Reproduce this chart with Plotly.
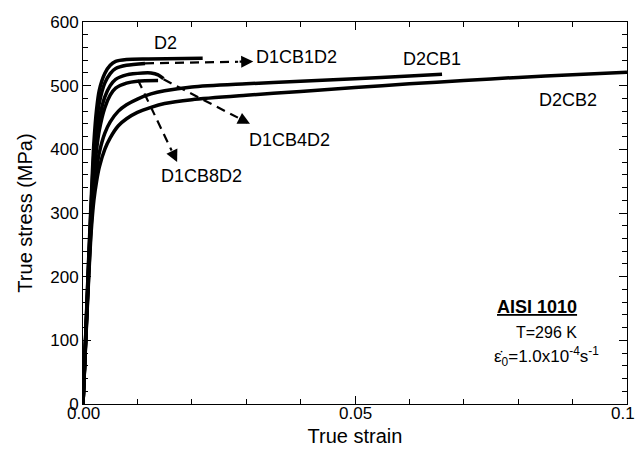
import plotly.graph_objects as go

# ---- data ----
d2_strain = [0, 0.0005, 0.001, 0.0015, 0.002, 0.0025, 0.003, 0.004, 0.005, 0.006, 0.008, 0.012, 0.022]
d2_stress = [0, 110, 220, 320, 410, 463, 493, 519, 532, 538, 541, 542, 543]

d1cb1d2_strain = [0, 0.0005, 0.001, 0.0015, 0.002, 0.0025, 0.003, 0.004, 0.005, 0.006, 0.008, 0.0114]
d1cb1d2_stress = [0, 108, 215, 310, 393, 443, 473, 504, 519, 527, 532, 535]

d1cb4d2_strain = [0, 0.0005, 0.001, 0.0015, 0.002, 0.0025, 0.003, 0.004, 0.005, 0.006, 0.008, 0.011, 0.0125, 0.0138, 0.0148]
d1cb4d2_stress = [0, 105, 208, 300, 370, 418, 448, 482, 500, 510, 517, 520, 520, 517, 511]

d1cb8d2_strain = [0, 0.0005, 0.001, 0.0015, 0.002, 0.0025, 0.003, 0.004, 0.005, 0.006, 0.008, 0.01, 0.0138]
d1cb8d2_stress = [0, 103, 203, 290, 355, 400, 430, 465, 485, 496, 504, 507, 508]

d2cb1_strain = [0, 0.0005, 0.001, 0.0015, 0.002, 0.0025, 0.003, 0.004, 0.005, 0.0065, 0.008, 0.01, 0.0125, 0.015, 0.02, 0.03, 0.04, 0.05, 0.06, 0.066]
d2cb1_stress = [0, 100, 195, 280, 335, 370, 395, 425, 443, 460, 470, 479, 487, 492, 498, 503, 507, 511, 515, 518]

d2cb2_strain = [0, 0.0005, 0.001, 0.0015, 0.002, 0.0025, 0.003, 0.004, 0.005, 0.0065, 0.008, 0.01, 0.0125, 0.015, 0.02, 0.03, 0.04, 0.05, 0.06, 0.07, 0.08, 0.09, 0.1]
d2cb2_stress = [0, 97, 190, 270, 320, 350, 372, 400, 418, 437, 448, 458, 466, 472, 478, 485, 491, 497, 503, 508, 513, 517, 521]

# x tick positions / labels
x_tickvals = [0, 0.05, 0.1]
x_ticktext = ["0.00", "0.05", "0.10"]

# dashed pointer lines (start on curve -> arrow tip)
ptr_names = ["D1CB1D2", "D1CB4D2", "D1CB8D2"]
ptr_x = [[0.0114, 0.0313], [0.0148, 0.0307], [0.0101, 0.0173]]
ptr_y = [[535, 538], [510, 440], [509, 380]]

# curve labels
label_text = ["D2", "D1CB1D2", "D2CB1", "D2CB2", "D1CB4D2", "D1CB8D2"]
label_x = [0.0151, 0.0393, 0.0642, 0.0892, 0.0380, 0.0217]
label_y = [567, 545, 542, 477, 415, 358]

FONT = "Liberation Sans, Arial, Helvetica, sans-serif"

fig = go.Figure()

curves = [
    (d2_strain, d2_stress),
    (d1cb1d2_strain, d1cb1d2_stress),
    (d1cb4d2_strain, d1cb4d2_stress),
    (d1cb8d2_strain, d1cb8d2_stress),
    (d2cb1_strain, d2cb1_stress),
    (d2cb2_strain, d2cb2_stress),
]
for xs, ys in curves:
    fig.add_trace(go.Scatter(x=xs, y=ys, mode="lines",
                             line=dict(color="black", width=3.5, shape="spline", smoothing=0.8),
                             showlegend=False, hoverinfo="skip", cliponaxis=False))

HEAD = 0.14  # fraction of pointer length drawn as the solid arrow-head segment
for xs, ys in zip(ptr_x, ptr_y):
    bx = xs[1] - HEAD * (xs[1] - xs[0])
    by = ys[1] - HEAD * (ys[1] - ys[0])
    fig.add_trace(go.Scatter(x=[xs[0], bx], y=[ys[0], by], mode="lines",
                             line=dict(color="black", width=2.2, dash="9px,6px"),
                             showlegend=False, hoverinfo="skip", cliponaxis=False))
    fig.add_annotation(x=xs[1], y=ys[1], ax=bx, ay=by, axref="x", ayref="y",
                       xref="x", yref="y", text="", showarrow=True,
                       arrowhead=2, arrowsize=1.1, arrowwidth=2.2, arrowcolor="black",
                       standoff=0, startstandoff=0)

for t, x, y in zip(label_text, label_x, label_y):
    fig.add_annotation(x=x, y=y, text=t, showarrow=False,
                       font=dict(family=FONT, size=18, color="black"))

# x tick labels placed just below the axis
for v, t in zip(x_tickvals, x_ticktext):
    fig.add_annotation(x=v, y=0, xref="x", yref="paper", text=t, showarrow=False,
                       yanchor="middle", yshift=-9,
                       font=dict(family=FONT, size=17, color="black"))

fig.add_annotation(x=0.0835, y=153, xref="x", yref="y", text="<b><u>AISI 1010</u></b>",
                   showarrow=False, font=dict(family=FONT, size=18, color="black"))
fig.add_annotation(x=0.0852, y=113, xref="x", yref="y", text="T=296 K",
                   showarrow=False, font=dict(family=FONT, size=16, color="black"))
fig.add_annotation(x=0.0852, y=75, xref="x", yref="y",
                   text="\u03b5\u0307<sub>0</sub>=1.0x10<sup>-4</sup>s<sup>-1</sup>",
                   showarrow=False, font=dict(family=FONT, size=17, color="black"))

axis_common = dict(showline=True, linecolor="black", linewidth=1, mirror="ticks",
                   ticks="inside", ticklen=8, tickwidth=1, tickcolor="black",
                   showgrid=False, zeroline=False, automargin=False,
                   tickfont=dict(family=FONT, size=17, color="black"))

fig.update_xaxes(range=[0, 0.1], tickvals=x_tickvals, showticklabels=False,
                 minor=dict(dtick=0.01, tick0=0, ticks="inside", ticklen=5, tickcolor="black"),
                 title=dict(text="True strain", font=dict(family=FONT, size=20, color="black"),
                            standoff=24),
                 **axis_common)
fig.update_yaxes(range=[0, 600], dtick=100, tick0=0,
                 minor=dict(dtick=20, tick0=0, ticks="inside", ticklen=5, tickcolor="black"),
                 title=dict(text="True stress (MPa)", font=dict(family=FONT, size=20, color="black"),
                            standoff=12),
                 **axis_common)

fig.update_layout(width=635, height=454, margin=dict(l=83, r=8, t=22, b=50),
                  plot_bgcolor="white", paper_bgcolor="white",
                  font=dict(family=FONT, color="black"))

fig.write_html("out.html")
